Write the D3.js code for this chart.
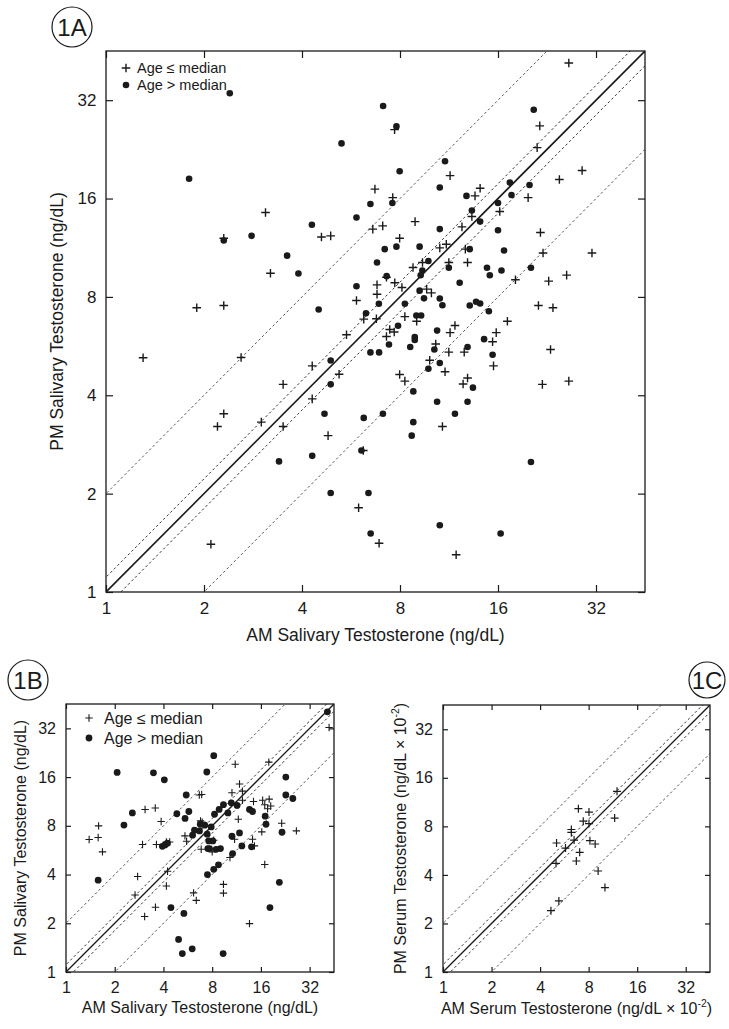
<!DOCTYPE html>
<html><head><meta charset="utf-8">
<script src="https://cdn.jsdelivr.net/npm/d3@7"></script>
<style>
body{margin:0;background:#fff;}
svg{display:block;font-family:"Liberation Sans",Arial,Helvetica,sans-serif;}
</style></head><body>
<svg id="chart" width="729" height="1029"></svg>
<script>
// ---------- data ----------
const tickValues = [1, 2, 4, 8, 16, 32];
const axisMax = Math.pow(2, 5.5);
const refFactors = [1, 1.11, 1 / 1.11, 2, 0.5];
const refKinds = ["solid", "inner", "inner", "outer", "outer"];
const legendLabels = ["Age \u2264 median", "Age > median"];

// Panel 1A: AM vs PM salivary testosterone (ng/dL)
const aYoungAM = [26.4,21.5,7.7,21.1,29.0,11.4,24.7,6.7,14.1,7.6,19.8,13.6,16.2,13.3,3.09,8.9,2.30,4.59,4.90,6.60,7.08,12.4,21.6,7.98,10.6,11.1,12.7,22.0,31.1,3.20,8.77,9.38,11.3,12.9,7.27,7.71,8.11,6.80,18.1,22.9,26.0,9.66,9.99,6.80,1.90,2.30,5.88,21.3,23.6,8.28,6.77,6.19,9.00,17.1,7.44,7.68,11.8,11.4,15.8,5.48,7.27,2.60,1.30,10.3,15.4,9.87,11.3,12.6,23.2,4.30,5.20,3.50,7.98,8.28,11.0,12.9,12.5,15.5,21.9,26.4,4.30,2.30,2.20,3.00,3.50,4.81,10.8,6.17,5.97,6.90,2.10,11.9];
const aYoungPM = [41.6,26.7,26.0,22.9,19.5,18.8,18.3,17.1,17.2,16.1,16.1,16.3,14.6,14.1,14.5,13.6,12.1,12.2,12.3,12.9,13.2,13.1,12.6,12.1,11.3,11.6,11.2,10.9,10.9,9.45,9.84,10.2,10.2,10.2,9.19,8.84,8.55,8.71,9.03,8.94,9.33,8.45,8.23,8.15,7.41,7.53,7.80,7.53,7.41,6.96,6.86,6.84,6.74,6.74,6.36,6.25,6.54,6.22,6.22,6.13,6.05,5.22,5.21,5.74,5.83,5.12,5.42,5.42,5.52,4.92,4.64,4.32,4.63,4.42,4.72,4.52,4.33,4.92,4.32,4.42,3.90,3.51,3.21,3.31,3.21,3.01,3.21,2.71,1.81,1.41,1.40,1.30];
const aOldAM = [2.40,7.10,20.6,7.80,5.29,11.0,1.80,7.98,17.4,20.0,10.6,17.6,12.8,6.49,7.58,16.0,13.3,14.1,4.29,5.88,2.30,2.80,10.6,16.0,7.18,7.80,9.19,13.1,16.7,3.60,3.90,5.88,6.80,9.78,11.3,14.8,16.4,20.2,15.1,9.37,9.26,7.28,12.2,9.19,9.48,10.6,4.50,6.89,8.28,10.8,13.1,13.7,14.1,15.0,6.29,8.98,9.29,7.89,10.4,8.88,8.88,7.40,14.5,8.60,10.2,12.9,6.49,6.90,15.4,4.90,10.6,9.78,4.90,13.4,8.79,10.4,12.9,4.69,6.19,7.09,11.8,8.79,8.69,6.09,3.40,4.30,20.2,4.90,6.40,6.50,10.6,16.3];
const aOldPM = [33.6,30.7,29.9,26.6,23.6,20.8,18.4,19.4,17.9,17.6,17.3,16.4,16.3,15.4,15.5,15.5,14.7,13.6,13.3,14.0,11.9,12.3,12.9,12.8,11.2,11.4,11.4,11.2,11.1,10.7,9.43,8.62,10.2,10.3,9.83,9.83,9.64,9.83,9.32,9.64,9.32,9.26,8.84,8.36,7.92,7.91,7.32,7.62,7.62,7.54,7.53,7.73,7.64,7.23,7.13,7.02,7.02,6.53,6.31,6.03,5.91,5.72,5.94,5.62,5.52,5.62,5.41,5.41,5.32,5.11,5.02,4.82,4.32,4.22,4.11,3.82,3.82,3.51,3.41,3.51,3.51,3.31,3.01,2.71,2.51,2.61,2.50,2.01,2.01,1.51,1.60,1.51];

// Panel 1B: AM vs PM salivary testosterone (ng/dL)
const bYoungAM = [42.2,11.1,17.9,11.8,6.66,6.89,10.6,12.3,3.08,3.56,3.87,12.3,14.4,16.4,18.0,16.9,18.4,17.6,11.6,21.5,26.5,16.2,6.78,6.94,5.43,5.56,8.18,11.0,14.2,14.6,4.17,4.37,3.62,2.97,6.84,8.00,10.3,16.9,4.24,2.77,4.17,9.39,9.39,6.14,6.38,2.67,3.57,3.06,13.6,1.39,1.58,1.59,1.68];
const bYoungPM = [32.4,19.2,19.8,14.5,12.4,12.5,12.8,13.1,10.1,10.3,8.50,11.5,11.3,11.5,11.7,10.8,10.6,10.2,8.79,8.30,7.44,7.34,8.58,8.42,6.93,6.43,6.52,6.61,6.61,6.01,6.36,6.36,6.13,6.13,5.73,5.52,5.10,4.61,4.19,3.89,3.40,3.48,3.07,3.08,2.77,2.99,2.51,2.20,1.99,6.58,6.77,7.99,5.52];
const bOldAM = [41.2,8.18,2.07,3.47,4.05,7.41,22.8,5.53,22.8,25.2,2.57,4.84,5.74,5.44,2.28,8.27,8.83,9.39,10.0,10.5,11.4,13.6,14.2,17.0,17.2,21.6,6.75,7.20,7.89,6.22,6.68,7.45,6.05,7.62,8.07,10.6,11.8,14.0,12.2,3.94,4.09,4.23,7.52,7.70,8.46,9.00,10.7,8.75,8.18,7.48,20.8,4.45,5.35,18.2,4.96,5.23,6.02,9.35,1.58];
const bOldPM = [40.5,21.7,17.1,17.0,15.4,17.2,16.0,12.4,12.4,11.8,9.61,9.50,9.81,8.89,8.09,9.43,10.1,10.8,9.61,11.1,10.7,10.1,9.81,9.17,8.18,7.30,8.18,8.07,7.88,7.52,7.44,7.10,7.00,6.45,6.45,6.90,7.23,5.93,6.01,5.98,6.10,6.25,5.79,5.79,5.73,5.79,5.39,4.59,4.31,4.00,3.58,2.50,2.30,2.50,1.59,1.30,1.39,1.30,3.69];

// Panel 1C: AM vs PM serum testosterone (ng/dL x 10^-2)
const cAM = [12.0,6.91,8.04,11.6,7.41,8.04,6.25,6.25,6.50,5.06,8.15,8.78,5.75,7.04,6.71,5.02,9.16,10.1,5.23,4.67];
const cPM = [13.2,10.3,9.81,9.00,8.62,8.33,7.65,7.34,6.58,6.31,6.52,6.22,5.87,5.52,4.88,4.72,4.23,3.34,2.76,2.40];

// ---------- drawing ----------
const svg = d3.select("#chart");
const ink = "#1a1a1a";

function zip(a, b) { return a.map((v, i) => [v, b[i]]); }

function plusPath(s) { return `M${-s},0H${s}M0,${-s}V${s}`; }

function drawPanel(cfg) {
  const g = svg.append("g");
  const x = d3.scaleLog().base(2).domain([1, axisMax]).range([cfg.left, cfg.left + cfg.w]);
  const y = d3.scaleLog().base(2).domain([1, axisMax]).range([cfg.top + cfg.h, cfg.top]);
  const clipId = "clip" + cfg.id;
  svg.append("clipPath").attr("id", clipId).append("rect")
    .attr("x", cfg.left).attr("y", cfg.top).attr("width", cfg.w).attr("height", cfg.h);

  // reference lines
  const lineGen = d3.line().x(d => x(d[0])).y(d => y(d[1]));
  const rg = g.append("g").attr("clip-path", `url(#${clipId})`);
  refFactors.forEach((k, i) => {
    const kind = refKinds[i];
    rg.append("path")
      .attr("d", lineGen([[0.5, 0.5 * k], [axisMax * 1.2, axisMax * 1.2 * k]]))
      .attr("fill", "none")
      .attr("stroke", kind === "solid" ? ink : (kind === "inner" ? "#333" : "#555"))
      .attr("stroke-width", kind === "solid" ? cfg.solidW : 1)
      .attr("stroke-dasharray", kind === "solid" ? null : "2.5,2.5");
  });

  // axes (ticks inward on all sides)
  const fmt = d3.format("d");
  const bottom = g.append("g").attr("transform", `translate(0,${cfg.top + cfg.h})`)
    .call(d3.axisBottom(x).tickValues(tickValues).tickFormat(fmt).tickSize(-cfg.tick).tickPadding(cfg.padX));
  const left = g.append("g").attr("transform", `translate(${cfg.left},0)`)
    .call(d3.axisLeft(y).tickValues(tickValues).tickFormat(fmt).tickSize(-cfg.tick).tickPadding(cfg.padY));
  g.append("g").attr("transform", `translate(0,${cfg.top})`)
    .call(d3.axisTop(x).tickValues(tickValues).tickFormat("").tickSize(-cfg.tick));
  g.append("g").attr("transform", `translate(${cfg.left + cfg.w},0)`)
    .call(d3.axisRight(y).tickValues(tickValues).tickFormat("").tickSize(-cfg.tick));
  g.selectAll(".domain").remove();
  g.selectAll(".tick line").attr("stroke", ink).attr("stroke-width", 1.2);
  g.selectAll(".tick text").attr("fill", ink).attr("font-size", cfg.tickFs)
    .attr("font-family", '"Liberation Sans",Arial,sans-serif');

  // frame
  g.append("rect").attr("x", cfg.left).attr("y", cfg.top).attr("width", cfg.w).attr("height", cfg.h)
    .attr("fill", "none").attr("stroke", ink).attr("stroke-width", 1.3);

  // points
  const pg = g.append("g");
  if (cfg.plus) {
    pg.selectAll("path.plus").data(cfg.plus).join("path").attr("class", "plus")
      .attr("transform", d => `translate(${x(d[0])},${y(d[1])})`)
      .attr("d", plusPath(cfg.plusS)).attr("stroke", ink).attr("stroke-width", cfg.plusW).attr("fill", "none");
  }
  if (cfg.dots) {
    pg.selectAll("circle.dot").data(cfg.dots).join("circle").attr("class", "dot")
      .attr("cx", d => x(d[0])).attr("cy", d => y(d[1])).attr("r", cfg.dotR).attr("fill", ink);
  }

  // legend
  if (cfg.legend) {
    const L = cfg.legend;
    g.append("path").attr("transform", `translate(${L.x},${L.y1})`).attr("d", plusPath(cfg.legPlusS))
      .attr("stroke", ink).attr("stroke-width", cfg.plusW).attr("fill", "none");
    g.append("circle").attr("cx", L.x).attr("cy", L.y2).attr("r", cfg.dotR).attr("fill", ink);
    g.append("text").attr("x", L.tx).attr("y", L.y1).attr("dy", "0.35em").attr("font-size", L.fs)
      .attr("fill", ink).text(legendLabels[0]);
    g.append("text").attr("x", L.tx).attr("y", L.y2).attr("dy", "0.35em").attr("font-size", L.fs)
      .attr("fill", ink).text(legendLabels[1]);
  }

  // titles
  const xt = g.append("text").attr("x", cfg.left + cfg.w / 2).attr("y", cfg.top + cfg.h + cfg.xTitleOff)
    .attr("text-anchor", "middle").attr("font-size", cfg.titleFs).attr("fill", ink);
  const yt = g.append("text")
    .attr("transform", `translate(${cfg.left - cfg.yTitleOff},${cfg.top + cfg.h / 2}) rotate(-90)`)
    .attr("text-anchor", "middle").attr("font-size", cfg.titleFs).attr("fill", ink);
  [[xt, cfg.xTitle], [yt, cfg.yTitle]].forEach(([t, parts]) => {
    if (typeof parts === "string") { t.text(parts); return; }
    t.append("tspan").text(parts[0]);
    t.append("tspan").attr("dy", -7).attr("font-size", cfg.titleFs * 0.65).text(parts[1]);
    t.append("tspan").attr("dy", 7).text(parts[2]);
  });

  // panel badge
  svg.append("circle").attr("cx", cfg.badge[0]).attr("cy", cfg.badge[1]).attr("r", cfg.badge[2])
    .attr("fill", "none").attr("stroke", ink).attr("stroke-width", 1.2);
  svg.append("text").attr("x", cfg.badge[0]).attr("y", cfg.badge[1]).attr("dy", "0.36em")
    .attr("text-anchor", "middle").attr("font-size", 24).attr("fill", ink).text(cfg.id);
}

drawPanel({
  id: "1A", left: 106, top: 51, w: 539, h: 541, tick: 7, padX: 9.5, padY: 9.5,
  tickFs: 17, titleFs: 17.5, solidW: 1.6,
  plus: zip(aYoungAM, aYoungPM), dots: zip(aOldAM, aOldPM),
  plusS: 4.3, plusW: 1.4, dotR: 3.3, legPlusS: 4.3,
  legend: { x: 126, y1: 68, y2: 85, tx: 137, fs: 14.5 },
  xTitle: "AM Salivary Testosterone (ng/dL)", yTitle: "PM Salivary Testosterone (ng/dL)",
  xTitleOff: 49, yTitleOff: 43, badge: [72, 27, 20]
});

drawPanel({
  id: "1B", left: 66, top: 704, w: 268, h: 268, tick: 5, padX: 9.5, padY: 10,
  tickFs: 16, titleFs: 16, solidW: 1.3,
  plus: zip(bYoungAM, bYoungPM), dots: zip(bOldAM, bOldPM),
  plusS: 3.7, plusW: 1.1, dotR: 3.4, legPlusS: 3.7,
  legend: { x: 89, y1: 718, y2: 738, tx: 104, fs: 16 },
  xTitle: "AM Salivary Testosterone (ng/dL)", yTitle: "PM Salivary Testosterone (ng/dL)",
  xTitleOff: 41, yTitleOff: 40, badge: [28, 680, 20]
});

drawPanel({
  id: "1C", left: 443, top: 705, w: 267, h: 267, tick: 5, padX: 9.5, padY: 10,
  tickFs: 16, titleFs: 16, solidW: 1.3,
  plus: zip(cAM, cPM), dots: null,
  plusS: 4, plusW: 1.2, dotR: 3.4, legPlusS: 4,
  legend: null,
  xTitle: ["AM Serum Testosterone (ng/dL \u00d7 10", "-2", ")"],
  yTitle: ["PM Serum Testosterone (ng/dL \u00d7 10", "-2", ")"],
  xTitleOff: 42, yTitleOff: 37, badge: [707, 680, 18]
});
</script>
</body></html>
